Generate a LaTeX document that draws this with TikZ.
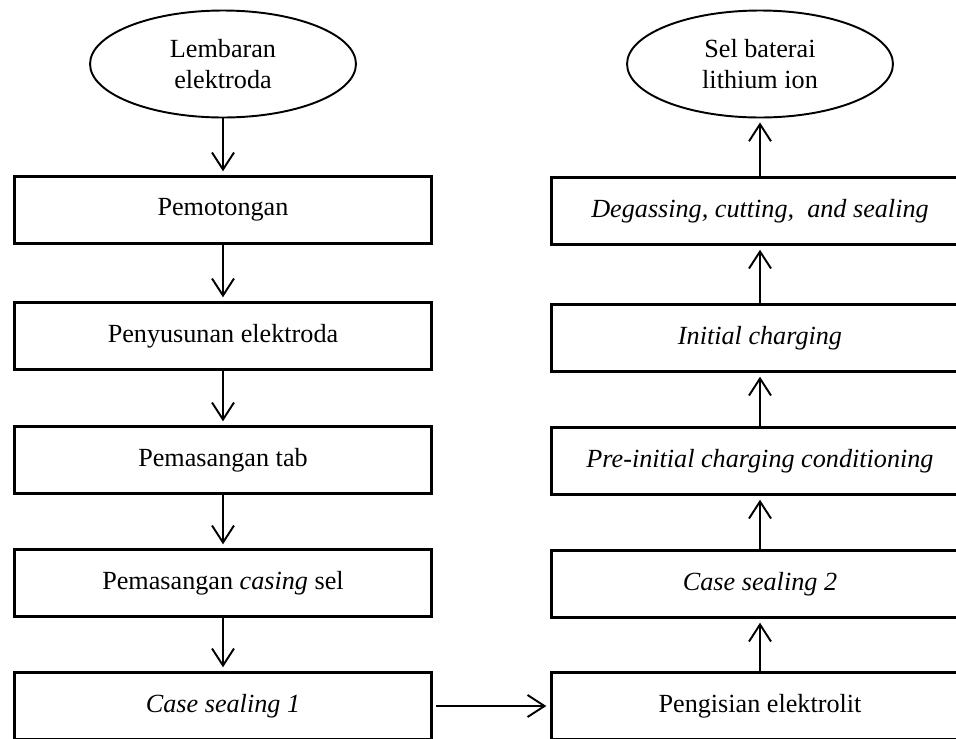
\documentclass[tikz,border=0pt]{standalone}
\usepackage{fontspec}
\setmainfont{Liberation Serif}
\usepackage{tikz}
\usetikzlibrary{shapes.geometric,arrows.meta}

\begin{document}
\begin{tikzpicture}[x=0.02cm, y=-0.02cm, >={Straight Barb[length=3.4mm,width=4.4mm]}]
      \tikzstyle{proc} = [draw, rectangle, line width=1.4pt, minimum width=8.34cm, minimum height=1.34cm, inner sep=0pt, font=\fontsize{14.9pt}{17.6pt}\selectfont]
      \tikzstyle{term} = [draw, ellipse, line width=1.1pt, minimum width=5.32cm, minimum height=2.14cm, inner sep=0pt, align=center, font=\fontsize{14.9pt}{17.6pt}\selectfont]
      \tikzstyle{flow} = [->, line width=1.1pt, shorten >=0.8mm]
      \useasboundingbox (0,0) rectangle (956,738);
      \clip (0,0) rectangle (956,738);

      % kolom kiri
      \node [term] (lem) at (223, 64) {Lembaran\\elektroda};
      \node [proc] (pot) at (223, 210) {Pemotongan};
      \node [proc] (sus) at (223, 336) {Penyusunan elektroda};
      \node [proc] (tab) at (223, 460) {Pemasangan tab};
      \node [proc] (cas) at (223, 583) {Pemasangan \textit{casing} sel};
      \node [proc] (cs1) at (223, 706) {\textit{Case sealing 1}};

      % kolom kanan
      \node [proc] (isi) at (760, 706) {Pengisian elektrolit};
      \node [proc] (cs2) at (760, 584) {\textit{Case sealing 2}};
      \node [proc] (pre) at (760, 461) {\textit{Pre-initial charging conditioning}};
      \node [proc] (ini) at (760, 338) {\textit{Initial charging}};
      \node [proc] (deg) at (760, 211) {\textit{Degassing, cutting,\ \ and sealing}};
      \node [term] (sel) at (760, 64) {Sel baterai\\lithium ion};

      \foreach \a/\b in {lem/pot, pot/sus, sus/tab, tab/cas, cas/cs1, isi/cs2, cs2/pre, pre/ini, ini/deg, deg/sel} {
        \draw [flow] (\a) -- (\b);
      }
      \draw [flow, shorten <=0.6mm] (cs1) -- (isi);
    \end{tikzpicture}
\end{document}
